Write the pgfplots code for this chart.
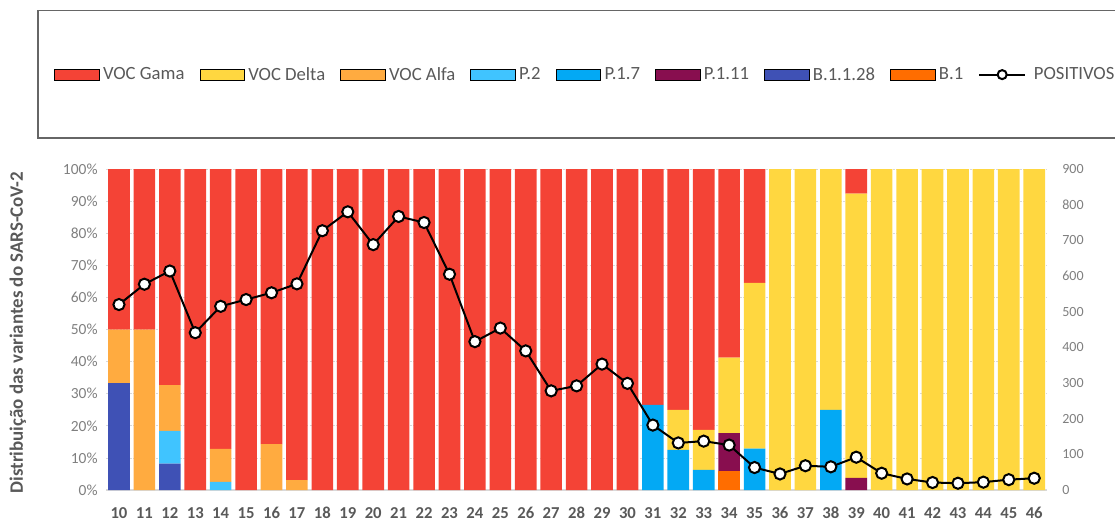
\documentclass[border=0pt]{standalone}
\usepackage{pgfplots}
\pgfplotsset{compat=1.18}
\usepackage{pgfplotstable}
\usepackage{fontspec}
\setmainfont{Carlito}
\definecolor{gama}{HTML}{F44336}
\definecolor{delta}{HTML}{FFD740}
\definecolor{alfa}{HTML}{FFAB40}
\definecolor{ptwo}{HTML}{40C4FF}
\definecolor{pseven}{HTML}{03A9F4}
\definecolor{peleven}{HTML}{880E4F}
\definecolor{bone}{HTML}{3F51B5}
\definecolor{bonly}{HTML}{FF6D00}
\definecolor{txt}{HTML}{595959}
\definecolor{tck}{HTML}{7F7F7F}
\pgfplotstableread{
x B1 B11128 P111 P17 P2 Alfa Delta Gama
10 0 33.3 0 0 0 16.7 0 50
11 0 0 0 0 0 50 0 50
12 0 8.2 0 0 10.2 14.3 0 67.3
13 0 0 0 0 0 0 0 100
14 0 0 0 0 2.5 10.3 0 87.2
15 0 0 0 0 0 0 0 100
16 0 0 0 0 0 14.3 0 85.7
17 0 0 0 0 0 3.1 0 96.9
18 0 0 0 0 0 0 0 100
19 0 0 0 0 0 0 0 100
20 0 0 0 0 0 0 0 100
21 0 0 0 0 0 0 0 100
22 0 0 0 0 0 0 0 100
23 0 0 0 0 0 0 0 100
24 0 0 0 0 0 0 0 100
25 0 0 0 0 0 0 0 100
26 0 0 0 0 0 0 0 100
27 0 0 0 0 0 0 0 100
28 0 0 0 0 0 0 0 100
29 0 0 0 0 0 0 0 100
30 0 0 0 0 0 0 0 100
31 0 0 0 26.5 0 0 0 73.5
32 0 0 0 12.5 0 0 12.5 75
33 0 0 0 6.25 0 0 12.5 81.25
34 5.9 0 11.8 0 0 0 23.5 58.8
35 0 0 0 12.9 0 0 51.6 35.5
36 0 0 0 0 0 0 100 0
37 0 0 0 0 0 0 100 0
38 0 0 0 25 0 0 75 0
39 0 0 3.8 0 0 0 88.5 7.7
40 0 0 0 0 0 0 100 0
41 0 0 0 0 0 0 100 0
42 0 0 0 0 0 0 100 0
43 0 0 0 0 0 0 100 0
44 0 0 0 0 0 0 100 0
45 0 0 0 0 0 0 100 0
46 0 0 0 0 0 0 100 0
}\bars
\pgfplotstableread{
x pos
10 520
11 577
12 614
13 441
14 515
15 534
16 553
17 578
18 727
19 780
20 688
21 767
22 750
23 605
24 416
25 454
26 390
27 278
28 292
29 353
30 299
31 182
32 132
33 137
34 126
35 63
36 45
37 68
38 65
39 92
40 47
41 31
42 21
43 19
44 22
45 29
46 33
}\positivos
\begin{document}
\begin{tikzpicture}
\begin{axis}[
  scale only axis, width=705.5pt, height=240.75pt,
  at={(0,0)}, anchor=south west,
  xmin=9.5, xmax=46.5, ymin=0, ymax=100,
  ybar stacked, bar width=0.85,
  axis x line*=bottom, axis y line*=left,
  x axis line style={draw=black!15, line width=1.5pt},
  y axis line style={draw=none},
  major tick length=0pt,
  /pgf/number format/assume math mode=true,
  xtick={10,...,46},
  xticklabel style={font=\bfseries\fontsize{12.5}{14}\selectfont, text=txt, anchor=north, inner sep=0pt, text height=9pt, text depth=0pt, yshift=-11.8pt},
  ytick={0,10,...,100},
  yticklabels={0\%,10\%,20\%,30\%,40\%,50\%,60\%,70\%,80\%,90\%,100\%},
  yticklabel style={font=\fontsize{11.6}{13}\selectfont, text=tck, xshift=-3pt},
  ymajorgrids, grid style={draw=black!15, dash pattern=on 1.5pt off 1pt, line width=0.6pt},
  ylabel={Distribuição das variantes do SARS-CoV-2},
  ylabel style={at={(rel axis cs:-0.0939,0.49)}, anchor=center, font=\bfseries\fontsize{14.2}{16}\selectfont, text=txt},
  legend columns=9,
  legend style={at={(rel axis cs:-0.0556,1.294)}, anchor=west, draw=none, fill=none, inner sep=0pt,
    font=\fontsize{14}{16}\selectfont, text=txt,
    /tikz/every even column/.append style={column sep=9.3pt}},
  legend image code/.code={\fill[#1] (0pt,-4.1pt) rectangle (33.4pt,4.1pt); \path (34.2pt,0pt);},
]
\addplot[fill=bonly, draw=none, forget plot] table[x=x,y=B1]{\bars};
\addplot[fill=bone, draw=none, forget plot] table[x=x,y=B11128]{\bars};
\addplot[fill=peleven, draw=none, forget plot] table[x=x,y=P111]{\bars};
\addplot[fill=pseven, draw=none, forget plot] table[x=x,y=P17]{\bars};
\addplot[fill=ptwo, draw=none, forget plot] table[x=x,y=P2]{\bars};
\addplot[fill=alfa, draw=none, forget plot] table[x=x,y=Alfa]{\bars};
\addplot[fill=delta, draw=none, forget plot] table[x=x,y=Delta]{\bars};
\addplot[fill=gama, draw=none, forget plot] table[x=x,y=Gama]{\bars};
\addlegendimage{fill=gama}\addlegendentry{VOC Gama}
\addlegendimage{fill=delta}\addlegendentry{VOC Delta}
\addlegendimage{fill=alfa}\addlegendentry{VOC Alfa}
\addlegendimage{fill=ptwo}\addlegendentry{P.2}
\addlegendimage{fill=pseven}\addlegendentry{P.1.7}
\addlegendimage{fill=peleven}\addlegendentry{P.1.11}
\addlegendimage{fill=bone}\addlegendentry{B.1.1.28}
\addlegendimage{fill=bonly}\addlegendentry{B.1}
\addlegendimage{legend image code/.code={\draw[black, line width=1.5pt] (0pt,0pt) -- (34.3pt,0pt); \draw[black, line width=1.5pt, fill=white] (17.15pt,0pt) circle (3.4pt); \path (38.8pt,0pt);}}\addlegendentry{POSITIVOS}
\end{axis}
\begin{axis}[
  scale only axis, width=705.5pt, height=240.75pt,
  at={(0,0)}, anchor=south west,
  xmin=9.5, xmax=46.5, ymin=0, ymax=900,
  axis x line=none, axis y line*=right,
  y axis line style={draw=none},
  major tick length=0pt,
  ytick={0,100,...,900},
  yticklabels={0,100,200,300,400,500,600,700,800,900},
  yticklabel style={font=\fontsize{10.5}{12}\selectfont, text=tck, xshift=8pt, anchor=west},
]
\addplot[black, line width=1.5pt, mark=*, mark size=4.2pt, mark options={fill=white, draw=black, line width=1.5pt}] table[x=x,y=pos]{\positivos};
\end{axis}
\draw[black!60, line width=0.9pt] (-51.2pt,264pt) rectangle (770pt,359.5pt);
\pgfresetboundingbox
\path[use as bounding box] (-79.7pt,-24pt) rectangle (756.55pt,367.5pt);
\end{tikzpicture}
\end{document}
